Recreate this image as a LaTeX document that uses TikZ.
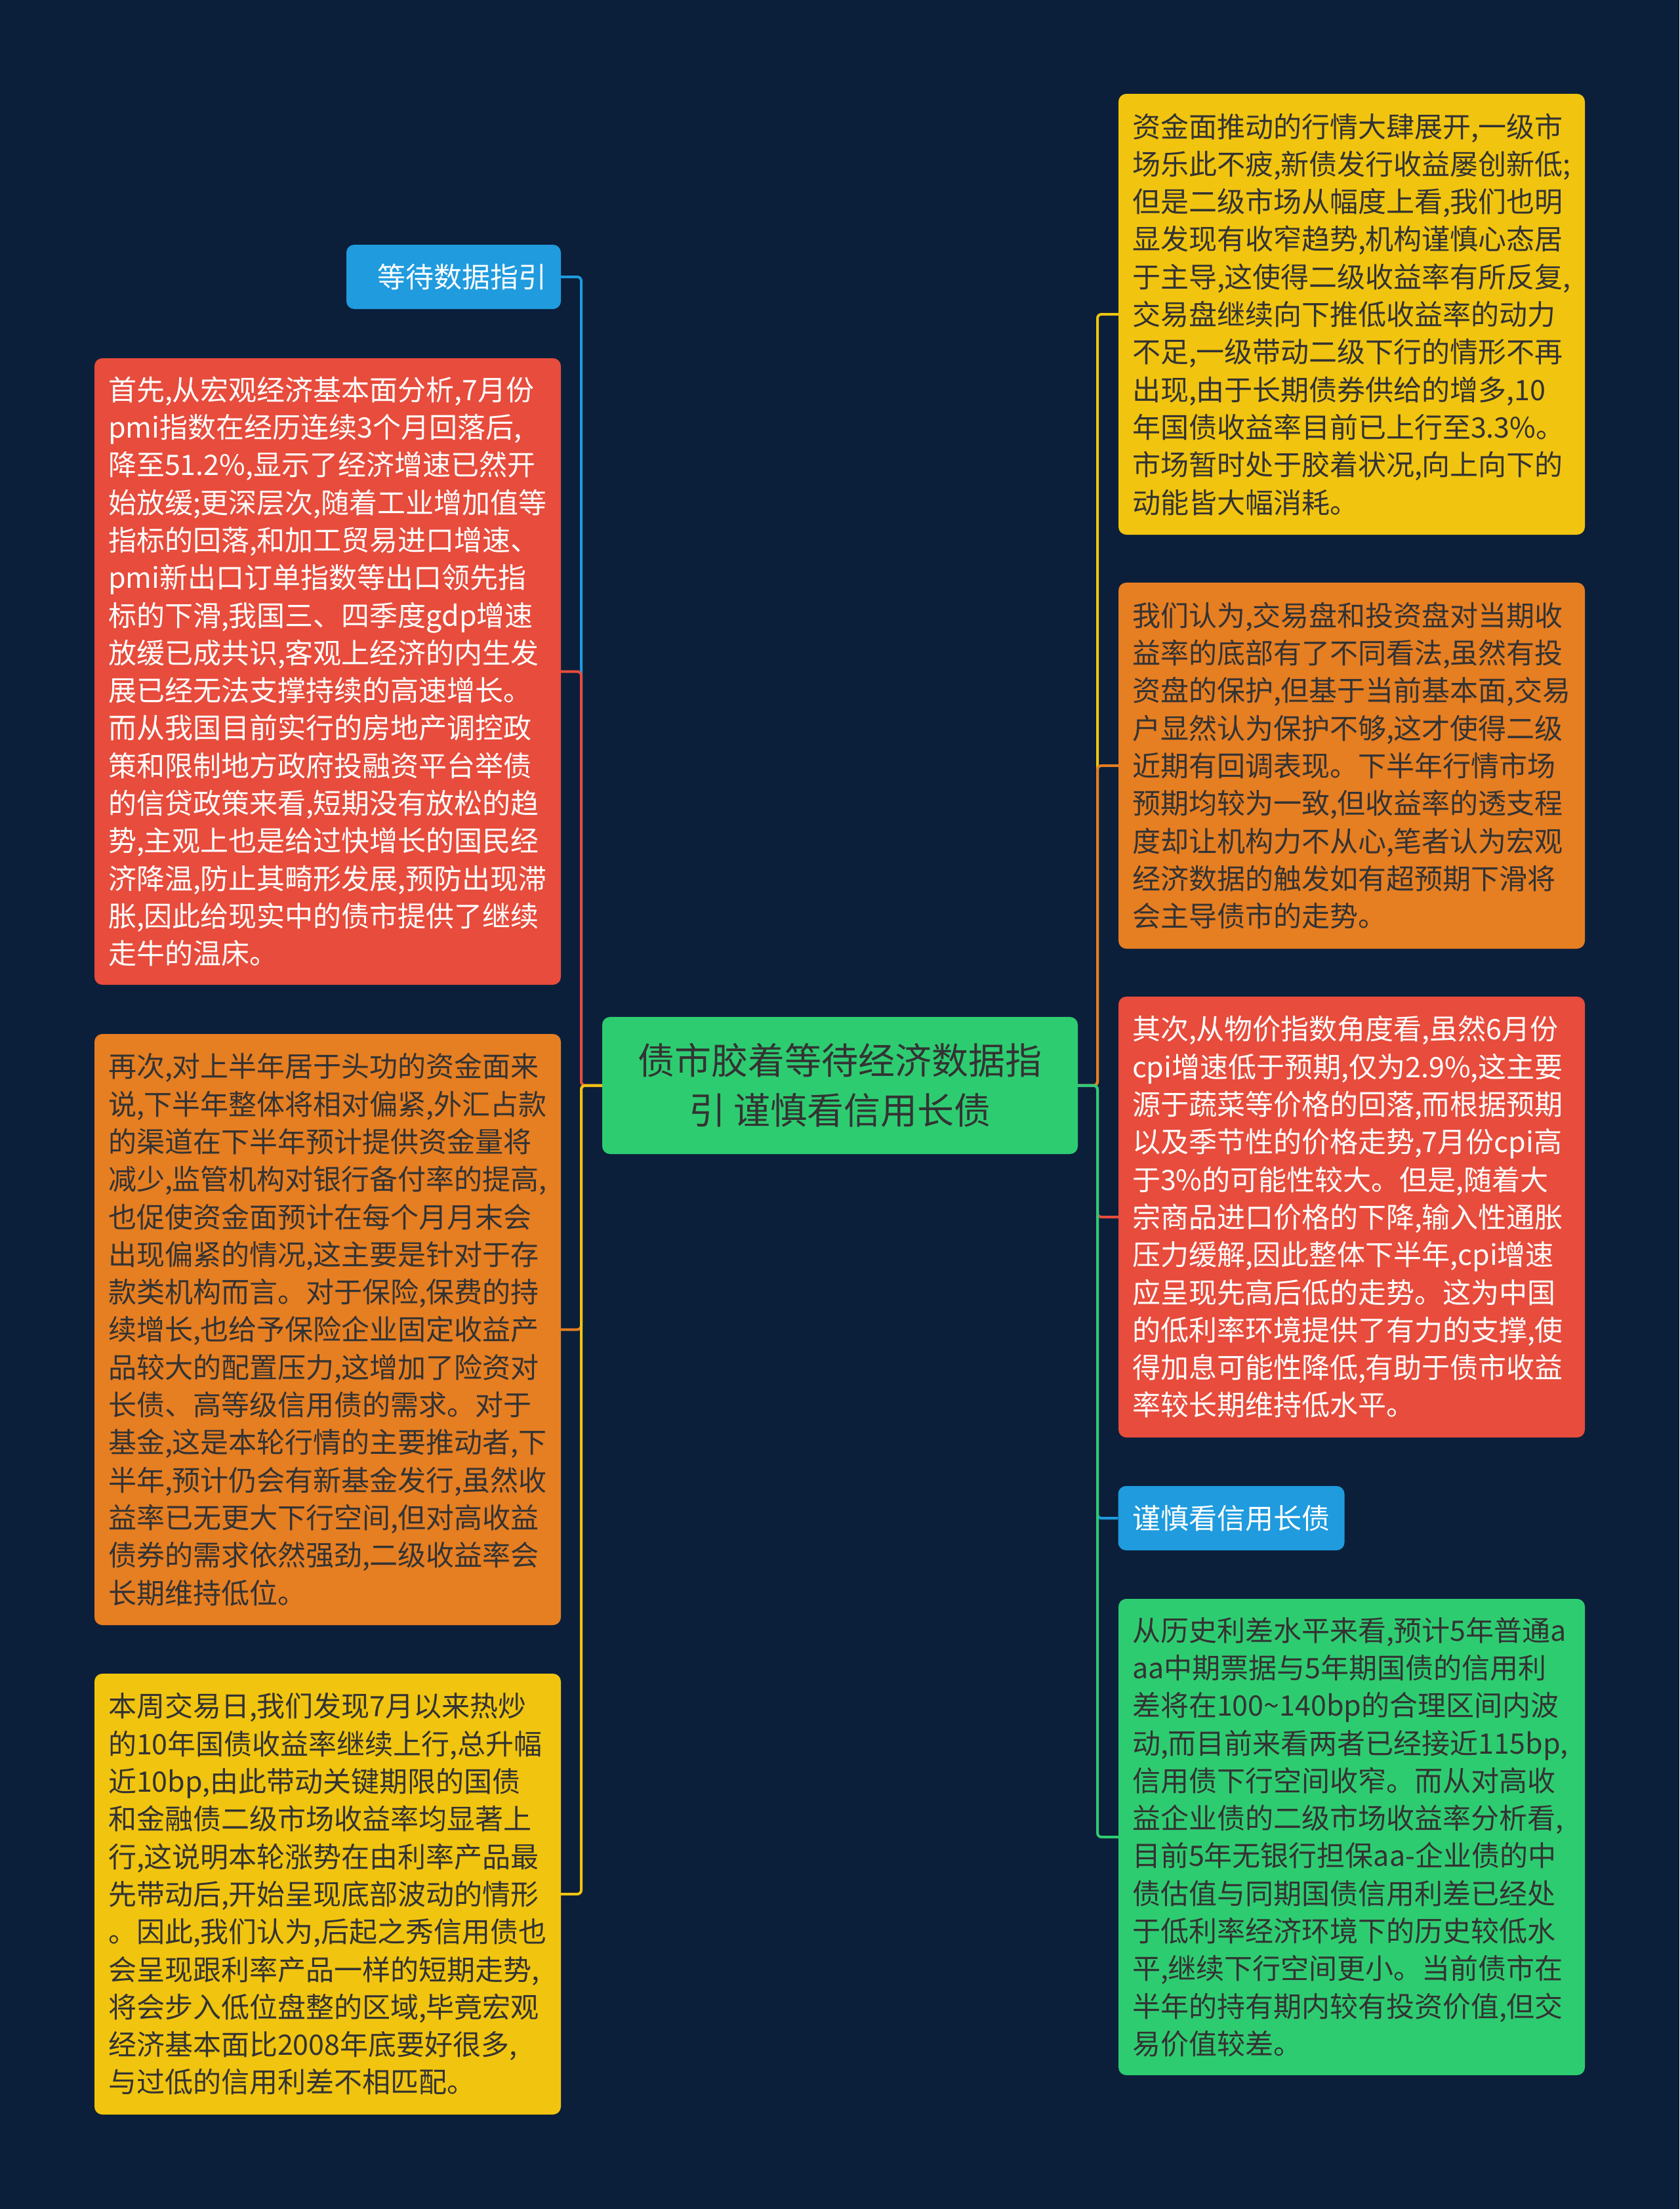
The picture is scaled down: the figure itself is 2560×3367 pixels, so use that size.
\documentclass[tikz,border=0pt]{standalone}
\usepackage{fontspec}
\setmainfont{Noto Sans CJK SC}
\definecolor{bgc}{HTML}{0B1F3A}
\definecolor{cblue}{HTML}{1F9BDE}
\definecolor{cred}{HTML}{E74C3C}
\definecolor{corange}{HTML}{E67E22}
\definecolor{cyellow}{HTML}{F1C40F}
\definecolor{cgreen}{HTML}{2ECC71}
\definecolor{darktxt}{HTML}{333333}
\tikzset{
  box/.style={rectangle, rounded corners=12pt, inner xsep=21pt, inner ysep=0pt,
    align=left, font=\fontsize{43pt}{57.3pt}\selectfont},
  bigbox/.style={box, text width=669pt, minimum width=711pt},
  tagbox/.style={box, inner xsep=22pt, minimum height=98pt},
  edge/.style={line width=4pt, rounded corners=6pt}
}
\begin{document}
\begin{tikzpicture}[x=1pt,y=-1pt]
\useasboundingbox (0,0) rectangle (2560,3367);
\fill[bgc] (0,0) rectangle (2560,3367);

% center
\node[rectangle, rounded corners=12pt, fill=cgreen, text=darktxt, minimum width=725pt, minimum height=209pt,
  align=center, font=\fontsize{56pt}{76pt}\selectfont] (c) at (1280.5,1654.5)
  {债市胶着等待经济数据指\\引 谨慎看信用长债};

\coordinate (lt) at (886,1654.5);
\coordinate (rt) at (1673,1654.5);

% left side
\node[tagbox, fill=cblue, text=white, text width=283pt, align=right, minimum width=325pt] (lb1) at (691.5,422) {等待数据指引};

\node[bigbox, fill=cred, text=white, minimum height=955pt] (lb2) at (499.5,1023.5)
{首先,从宏观经济基本面分析,7月份\\
pmi指数在经历连续3个月回落后,\\
降至51.2\%,显示了经济增速已然开\\
始放缓;更深层次,随着工业增加值等\\
指标的回落,和加工贸易进口增速、\\
pmi新出口订单指数等出口领先指\\
标的下滑,我国三、四季度gdp增速\\
放缓已成共识,客观上经济的内生发\\
展已经无法支撑持续的高速增长。\\
而从我国目前实行的房地产调控政\\
策和限制地方政府投融资平台举债\\
的信贷政策来看,短期没有放松的趋\\
势,主观上也是给过快增长的国民经\\
济降温,防止其畸形发展,预防出现滞\\
胀,因此给现实中的债市提供了继续\\
走牛的温床。};

\node[bigbox, fill=corange, text=darktxt, minimum height=901pt] (lb3) at (499.5,2026.5)
{再次,对上半年居于头功的资金面来\\
说,下半年整体将相对偏紧,外汇占款\\
的渠道在下半年预计提供资金量将\\
减少,监管机构对银行备付率的提高,\\
也促使资金面预计在每个月月末会\\
出现偏紧的情况,这主要是针对于存\\
款类机构而言。对于保险,保费的持\\
续增长,也给予保险企业固定收益产\\
品较大的配置压力,这增加了险资对\\
长债、高等级信用债的需求。对于\\
基金,这是本轮行情的主要推动者,下\\
半年,预计仍会有新基金发行,虽然收\\
益率已无更大下行空间,但对高收益\\
债券的需求依然强劲,二级收益率会\\
长期维持低位。};

\node[bigbox, fill=cyellow, text=darktxt, minimum height=672pt] (lb4) at (499.5,2887)
{本周交易日,我们发现7月以来热炒\\
的10年国债收益率继续上行,总升幅\\
近10bp,由此带动关键期限的国债\\
和金融债二级市场收益率均显著上\\
行,这说明本轮涨势在由利率产品最\\
先带动后,开始呈现底部波动的情形\\
。因此,我们认为,后起之秀信用债也\\
会呈现跟利率产品一样的短期走势,\\
将会步入低位盘整的区域,毕竟宏观\\
经济基本面比2008年底要好很多,\\
与过低的信用利差不相匹配。};

% right side
\node[bigbox, fill=cyellow, text=darktxt, minimum height=672pt] (rb1) at (2060.5,479)
{资金面推动的行情大肆展开,一级市\\
场乐此不疲,新债发行收益屡创新低;\\
但是二级市场从幅度上看,我们也明\\
显发现有收窄趋势,机构谨慎心态居\\
于主导,这使得二级收益率有所反复,\\
交易盘继续向下推低收益率的动力\\
不足,一级带动二级下行的情形不再\\
出现,由于长期债券供给的增多,10\\
年国债收益率目前已上行至3.3\%。\\
市场暂时处于胶着状况,向上向下的\\
动能皆大幅消耗。};

\node[bigbox, fill=corange, text=darktxt, minimum height=558pt] (rb2) at (2060.5,1167)
{我们认为,交易盘和投资盘对当期收\\
益率的底部有了不同看法,虽然有投\\
资盘的保护,但基于当前基本面,交易\\
户显然认为保护不够,这才使得二级\\
近期有回调表现。下半年行情市场\\
预期均较为一致,但收益率的透支程\\
度却让机构力不从心,笔者认为宏观\\
经济数据的触发如有超预期下滑将\\
会主导债市的走势。};

\node[bigbox, fill=cred, text=white, minimum height=672pt] (rb3) at (2060.5,1855)
{其次,从物价指数角度看,虽然6月份\\
cpi增速低于预期,仅为2.9\%,这主要\\
源于蔬菜等价格的回落,而根据预期\\
以及季节性的价格走势,7月份cpi高\\
于3\%的可能性较大。但是,随着大\\
宗商品进口价格的下降,输入性通胀\\
压力缓解,因此整体下半年,cpi增速\\
应呈现先高后低的走势。这为中国\\
的低利率环境提供了有力的支撑,使\\
得加息可能性降低,有助于债市收益\\
率较长期维持低水平。};

\node[tagbox, fill=cblue, text=white, minimum width=344pt, align=center] (rb4) at (1877,2314) {谨慎看信用长债};

\node[bigbox, fill=cgreen, text=darktxt, minimum height=726pt] (rb5) at (2060.5,2800)
{从历史利差水平来看,预计5年普通a\\
aa中期票据与5年期国债的信用利\\
差将在100\textasciitilde140bp的合理区间内波\\
动,而目前来看两者已经接近115bp,\\
信用债下行空间收窄。而从对高收\\
益企业债的二级市场收益率分析看,\\
目前5年无银行担保aa-企业债的中\\
债估值与同期国债信用利差已经处\\
于低利率经济环境下的历史较低水\\
平,继续下行空间更小。当前债市在\\
半年的持有期内较有投资价值,但交\\
易价值较差。};

% connectors left
\draw[edge, cblue] (c.west) -- (lt) |- (lb1.east);
\draw[edge, cred] (c.west) -- (lt) |- (lb2.east);
\draw[edge, corange] (c.west) -- (lt) |- (lb3.east);
\draw[edge, cyellow] (c.west) -- (lt) |- (lb4.east);
% connectors right
\draw[edge, cyellow] (c.east) -- (rt) |- (rb1.west);
\draw[edge, corange] (c.east) -- (rt) |- (rb2.west);
\draw[edge, cred] (c.east) -- (rt) |- (rb3.west);
\draw[edge, cblue] (c.east) -- (rt) |- (rb4.west);
\draw[edge, cgreen] (c.east) -- (rt) |- (rb5.west);
\end{tikzpicture}
\end{document}
